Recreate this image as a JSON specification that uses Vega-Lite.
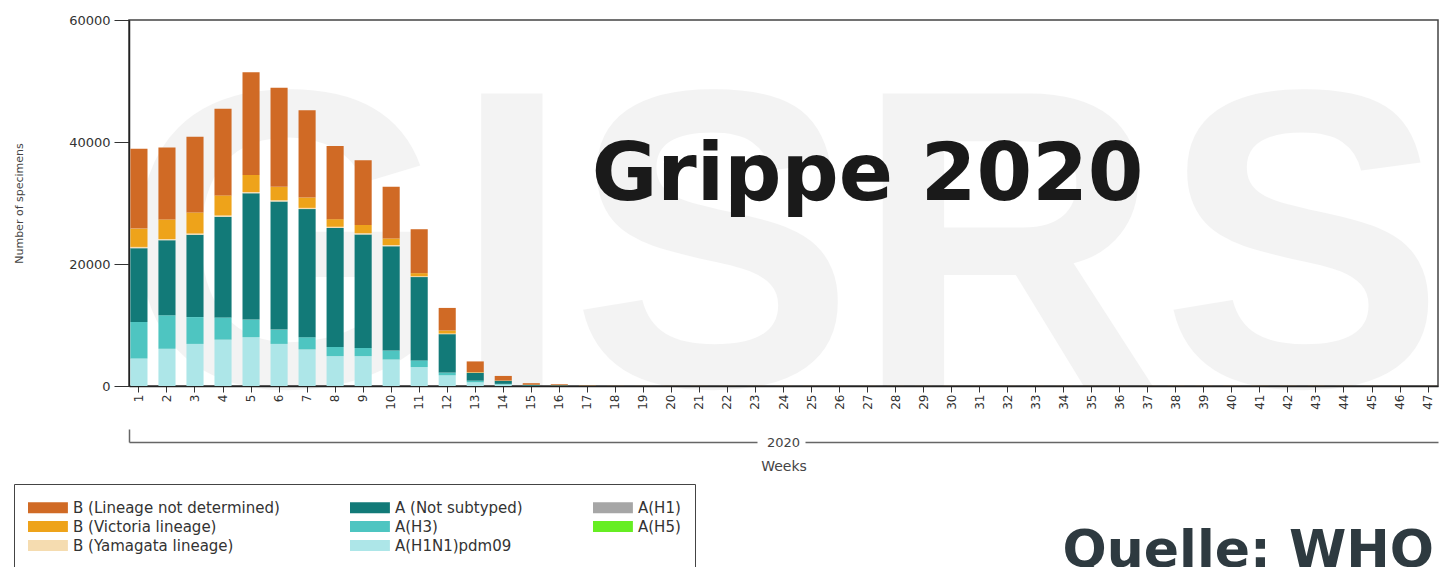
{
 "$schema": "https://vega.github.io/schema/vega-lite/v6.json",
 "width": 1309,
 "height": 366,
 "autosize": {"type": "none"},
 "padding": {"left": 129, "top": 20, "right": 11, "bottom": 181},
 "background": "white",
 "config": {
  "view": {"stroke": "#444", "strokeWidth": 1.5},
  "font": "DejaVu Sans",
  "axis": {"labelFont": "DejaVu Sans", "titleFont": "DejaVu Sans", "labelColor": "#333", "titleColor": "#444"}
 },
 "title": {"text": "Quelle: WHO", "orient": "bottom", "anchor": "end", "frame": "group", "font": "DejaVu Sans", "fontSize": 52, "fontWeight": "bold", "color": "#2e3a40", "dx": -4, "offset": -43},
 "datasets": {
  "types": [
   {"type": "A(H1N1)pdm09", "rank": 1},
   {"type": "A(H3)", "rank": 2},
   {"type": "A(H5)", "rank": 3},
   {"type": "A(H1)", "rank": 4},
   {"type": "A (Not subtyped)", "rank": 5},
   {"type": "B (Yamagata lineage)", "rank": 6},
   {"type": "B (Victoria lineage)", "rank": 7},
   {"type": "B (Lineage not determined)", "rank": 8}
  ],
  "flu": [
   {"week": 1, "type": "A(H1N1)pdm09", "count": 4500}, {"week": 1, "type": "A(H3)", "count": 6000}, {"week": 1, "type": "A (Not subtyped)", "count": 12100}, {"week": 1, "type": "B (Yamagata lineage)", "count": 200}, {"week": 1, "type": "B (Victoria lineage)", "count": 3000}, {"week": 1, "type": "B (Lineage not determined)", "count": 13100},
   {"week": 2, "type": "A(H1N1)pdm09", "count": 6100}, {"week": 2, "type": "A(H3)", "count": 5500}, {"week": 2, "type": "A (Not subtyped)", "count": 12300}, {"week": 2, "type": "B (Yamagata lineage)", "count": 200}, {"week": 2, "type": "B (Victoria lineage)", "count": 3200}, {"week": 2, "type": "B (Lineage not determined)", "count": 11800},
   {"week": 3, "type": "A(H1N1)pdm09", "count": 6900}, {"week": 3, "type": "A(H3)", "count": 4400}, {"week": 3, "type": "A (Not subtyped)", "count": 13500}, {"week": 3, "type": "B (Yamagata lineage)", "count": 200}, {"week": 3, "type": "B (Victoria lineage)", "count": 3450}, {"week": 3, "type": "B (Lineage not determined)", "count": 12400},
   {"week": 4, "type": "A(H1N1)pdm09", "count": 7600}, {"week": 4, "type": "A(H3)", "count": 3650}, {"week": 4, "type": "A (Not subtyped)", "count": 16500}, {"week": 4, "type": "B (Yamagata lineage)", "count": 200}, {"week": 4, "type": "B (Victoria lineage)", "count": 3300}, {"week": 4, "type": "B (Lineage not determined)", "count": 14200},
   {"week": 5, "type": "A(H1N1)pdm09", "count": 8000}, {"week": 5, "type": "A(H3)", "count": 2900}, {"week": 5, "type": "A (Not subtyped)", "count": 20700}, {"week": 5, "type": "B (Yamagata lineage)", "count": 200}, {"week": 5, "type": "B (Victoria lineage)", "count": 2800}, {"week": 5, "type": "B (Lineage not determined)", "count": 16850},
   {"week": 6, "type": "A(H1N1)pdm09", "count": 6900}, {"week": 6, "type": "A(H3)", "count": 2350}, {"week": 6, "type": "A (Not subtyped)", "count": 21000}, {"week": 6, "type": "B (Yamagata lineage)", "count": 200}, {"week": 6, "type": "B (Victoria lineage)", "count": 2200}, {"week": 6, "type": "B (Lineage not determined)", "count": 16250},
   {"week": 7, "type": "A(H1N1)pdm09", "count": 6000}, {"week": 7, "type": "A(H3)", "count": 2000}, {"week": 7, "type": "A (Not subtyped)", "count": 21000}, {"week": 7, "type": "B (Yamagata lineage)", "count": 200}, {"week": 7, "type": "B (Victoria lineage)", "count": 1700}, {"week": 7, "type": "B (Lineage not determined)", "count": 14300},
   {"week": 8, "type": "A(H1N1)pdm09", "count": 4900}, {"week": 8, "type": "A(H3)", "count": 1500}, {"week": 8, "type": "A (Not subtyped)", "count": 19500}, {"week": 8, "type": "B (Yamagata lineage)", "count": 200}, {"week": 8, "type": "B (Victoria lineage)", "count": 1250}, {"week": 8, "type": "B (Lineage not determined)", "count": 12000},
   {"week": 9, "type": "A(H1N1)pdm09", "count": 4900}, {"week": 9, "type": "A(H3)", "count": 1350}, {"week": 9, "type": "A (Not subtyped)", "count": 18600}, {"week": 9, "type": "B (Yamagata lineage)", "count": 200}, {"week": 9, "type": "B (Victoria lineage)", "count": 1350}, {"week": 9, "type": "B (Lineage not determined)", "count": 10600},
   {"week": 10, "type": "A(H1N1)pdm09", "count": 4350}, {"week": 10, "type": "A(H3)", "count": 1450}, {"week": 10, "type": "A (Not subtyped)", "count": 17100}, {"week": 10, "type": "B (Yamagata lineage)", "count": 200}, {"week": 10, "type": "B (Victoria lineage)", "count": 1100}, {"week": 10, "type": "B (Lineage not determined)", "count": 8450},
   {"week": 11, "type": "A(H1N1)pdm09", "count": 3100}, {"week": 11, "type": "A(H3)", "count": 1100}, {"week": 11, "type": "A (Not subtyped)", "count": 13650}, {"week": 11, "type": "B (Yamagata lineage)", "count": 150}, {"week": 11, "type": "B (Victoria lineage)", "count": 500}, {"week": 11, "type": "B (Lineage not determined)", "count": 7200},
   {"week": 12, "type": "A(H1N1)pdm09", "count": 1750}, {"week": 12, "type": "A(H3)", "count": 450}, {"week": 12, "type": "A (Not subtyped)", "count": 6300}, {"week": 12, "type": "B (Yamagata lineage)", "count": 100}, {"week": 12, "type": "B (Victoria lineage)", "count": 500}, {"week": 12, "type": "B (Lineage not determined)", "count": 3700},
   {"week": 13, "type": "A(H1N1)pdm09", "count": 600}, {"week": 13, "type": "A(H3)", "count": 270}, {"week": 13, "type": "A (Not subtyped)", "count": 1300}, {"week": 13, "type": "B (Yamagata lineage)", "count": 30}, {"week": 13, "type": "B (Victoria lineage)", "count": 80}, {"week": 13, "type": "B (Lineage not determined)", "count": 1750},
   {"week": 14, "type": "A(H1N1)pdm09", "count": 250}, {"week": 14, "type": "A(H3)", "count": 100}, {"week": 14, "type": "A (Not subtyped)", "count": 500}, {"week": 14, "type": "B (Yamagata lineage)", "count": 10}, {"week": 14, "type": "B (Victoria lineage)", "count": 40}, {"week": 14, "type": "B (Lineage not determined)", "count": 750},
   {"week": 15, "type": "A(H1N1)pdm09", "count": 50}, {"week": 15, "type": "A(H3)", "count": 20}, {"week": 15, "type": "A (Not subtyped)", "count": 120}, {"week": 15, "type": "B (Victoria lineage)", "count": 20}, {"week": 15, "type": "B (Lineage not determined)", "count": 250},
   {"week": 16, "type": "A(H1N1)pdm09", "count": 30}, {"week": 16, "type": "A(H3)", "count": 10}, {"week": 16, "type": "A (Not subtyped)", "count": 80}, {"week": 16, "type": "B (Victoria lineage)", "count": 10}, {"week": 16, "type": "B (Lineage not determined)", "count": 150},
   {"week": 17, "type": "A(H1N1)pdm09", "count": 10}, {"week": 17, "type": "A (Not subtyped)", "count": 40}, {"week": 17, "type": "B (Lineage not determined)", "count": 60},
   {"week": 18, "type": "A (Not subtyped)", "count": 10}, {"week": 18, "type": "B (Lineage not determined)", "count": 20},
   {"week": 19, "type": "A (Not subtyped)", "count": 10}, {"week": 19, "type": "B (Lineage not determined)", "count": 15},
   {"week": 20, "type": "A (Not subtyped)", "count": 10}, {"week": 20, "type": "B (Lineage not determined)", "count": 15},
   {"week": 21, "type": "A (Not subtyped)", "count": 10}, {"week": 21, "type": "B (Lineage not determined)", "count": 15},
   {"week": 22, "type": "A (Not subtyped)", "count": 10}, {"week": 22, "type": "B (Lineage not determined)", "count": 15},
   {"week": 23, "type": "A (Not subtyped)", "count": 10}, {"week": 23, "type": "B (Lineage not determined)", "count": 15},
   {"week": 24, "type": "A (Not subtyped)", "count": 10}, {"week": 24, "type": "B (Lineage not determined)", "count": 15},
   {"week": 25, "type": "A (Not subtyped)", "count": 10}, {"week": 25, "type": "B (Lineage not determined)", "count": 15},
   {"week": 26, "type": "A (Not subtyped)", "count": 10}, {"week": 26, "type": "B (Lineage not determined)", "count": 15},
   {"week": 27, "type": "A (Not subtyped)", "count": 10}, {"week": 27, "type": "B (Lineage not determined)", "count": 15},
   {"week": 28, "type": "A (Not subtyped)", "count": 10}, {"week": 28, "type": "B (Lineage not determined)", "count": 15},
   {"week": 29, "type": "A (Not subtyped)", "count": 10}, {"week": 29, "type": "B (Lineage not determined)", "count": 15},
   {"week": 30, "type": "A (Not subtyped)", "count": 10}, {"week": 30, "type": "B (Lineage not determined)", "count": 15},
   {"week": 31, "type": "A (Not subtyped)", "count": 10}, {"week": 31, "type": "B (Lineage not determined)", "count": 15},
   {"week": 32, "type": "A (Not subtyped)", "count": 10}, {"week": 32, "type": "B (Lineage not determined)", "count": 15},
   {"week": 33, "type": "A (Not subtyped)", "count": 10}, {"week": 33, "type": "B (Lineage not determined)", "count": 15},
   {"week": 34, "type": "A (Not subtyped)", "count": 10}, {"week": 34, "type": "B (Lineage not determined)", "count": 15},
   {"week": 35, "type": "A (Not subtyped)", "count": 10}, {"week": 35, "type": "B (Lineage not determined)", "count": 15},
   {"week": 36, "type": "A (Not subtyped)", "count": 10}, {"week": 36, "type": "B (Lineage not determined)", "count": 15},
   {"week": 37, "type": "A (Not subtyped)", "count": 10}, {"week": 37, "type": "B (Lineage not determined)", "count": 15},
   {"week": 38, "type": "A (Not subtyped)", "count": 10}, {"week": 38, "type": "B (Lineage not determined)", "count": 20},
   {"week": 39, "type": "A (Not subtyped)", "count": 10}, {"week": 39, "type": "B (Lineage not determined)", "count": 20},
   {"week": 40, "type": "A (Not subtyped)", "count": 10}, {"week": 40, "type": "B (Lineage not determined)", "count": 20},
   {"week": 41, "type": "A (Not subtyped)", "count": 10}, {"week": 41, "type": "B (Lineage not determined)", "count": 20},
   {"week": 42, "type": "A (Not subtyped)", "count": 10}, {"week": 42, "type": "B (Lineage not determined)", "count": 20},
   {"week": 43, "type": "A (Not subtyped)", "count": 10}, {"week": 43, "type": "B (Lineage not determined)", "count": 20},
   {"week": 44, "type": "A (Not subtyped)", "count": 10}, {"week": 44, "type": "B (Lineage not determined)", "count": 15},
   {"week": 45, "type": "A (Not subtyped)", "count": 10}, {"week": 45, "type": "B (Lineage not determined)", "count": 15},
   {"week": 46, "type": "A (Not subtyped)", "count": 10}, {"week": 46, "type": "B (Lineage not determined)", "count": 15},
   {"week": 47, "type": "A (Not subtyped)", "count": 10}, {"week": 47, "type": "B (Lineage not determined)", "count": 15}
  ]
 },
 "layer": [
  {
   "layer": [
    {
     "data": {"values": [{"label": "GISRS"}]},
     "mark": {"type": "text", "font": "Liberation Sans", "fontWeight": "bold", "fontSize": 425, "color": "#000000", "opacity": 0.045, "baseline": "alphabetic", "align": "center"},
     "encoding": {
      "x": {"datum": 24, "type": "ordinal"},
      "y": {"datum": 0, "type": "quantitative"},
      "text": {"field": "label"}
     }
    },
    {
     "data": {"name": "flu"},
     "transform": [{"lookup": "type", "from": {"data": {"name": "types"}, "key": "type", "fields": ["rank"]}}],
     "mark": {"type": "bar"},
     "encoding": {
      "x": {"field": "week", "type": "ordinal", "scale": {"paddingInner": 0.39, "paddingOuter": 0.05},
            "axis": {"title": null, "labelAngle": -90, "labelFontSize": 12, "tickSize": 6, "labelPadding": 2, "domainColor": "#222", "domainWidth": 1.5, "tickColor": "#333", "grid": false}},
      "y": {"field": "count", "type": "quantitative", "stack": "zero", "scale": {"domain": [0, 60000], "nice": false},
            "axis": {"title": "Number of specimens", "values": [0, 20000, 40000, 60000], "format": "d", "tickSize": 15, "labelPadding": 4, "labelFontSize": 13, "titleFontSize": 11, "titleFontWeight": "normal", "titlePadding": 44, "gridColor": "#444", "gridWidth": 1.2, "domainColor": "#222", "domainWidth": 1.5, "tickColor": "#333"}},
      "color": {"field": "type", "type": "nominal",
                "scale": {"domain": ["B (Lineage not determined)", "B (Victoria lineage)", "B (Yamagata lineage)", "A (Not subtyped)", "A(H3)", "A(H1N1)pdm09", "A(H1)", "A(H5)"],
                          "range": ["#d06a25", "#eea31a", "#f5dcb0", "#127a78", "#4ec5c1", "#ade6e8", "#a6a6a6", "#66ee22"]},
                "legend": {"title": null, "orient": "none", "legendX": -115, "legendY": 464, "columns": 3, "columnPadding": 70, "rowPadding": 1, "padding": 14,
                           "strokeColor": "#444", "fillColor": "white",
                           "symbolType": "M-1,-0.58H3.2V0.58H-1Z", "symbolSize": 361, "symbolStrokeWidth": 0, "symbolOpacity": 1,
                           "labelFont": "DejaVu Sans", "labelFontSize": 15, "labelColor": "#333", "labelOffset": 26, "labelLimit": 400}},
      "order": {"field": "rank", "type": "quantitative"}
     }
    },
    {
     "data": {"values": [{"label": "Grippe 2020"}]},
     "mark": {"type": "text", "font": "DejaVu Sans", "fontWeight": "bold", "fontSize": 80, "color": "#1a1a1a", "baseline": "alphabetic", "align": "center"},
     "encoding": {
      "x": {"datum": 27, "type": "ordinal"},
      "y": {"datum": 30500, "type": "quantitative"},
      "text": {"field": "label"}
     }
    }
   ]
  },
  {
   "data": {"values": [{"year": "2020"}]},
   "mark": {"type": "text", "text": ""},
   "encoding": {
    "x": {"field": "year", "type": "nominal", "scale": {"type": "band", "paddingInner": 0, "paddingOuter": 0},
          "axis": {"orient": "bottom", "offset": 56, "title": "Weeks", "titleFontSize": 14, "titleFontWeight": "normal", "titleColor": "#444", "titlePadding": 10,
                   "labelFontSize": 13, "labelColor": "#444", "labelAngle": 0, "labelBaseline": "middle", "labelPadding": 13,
                   "bandPosition": 0, "tickSize": -13, "tickColor": "#666", "tickWidth": 1.5, "domainColor": "#666", "domainWidth": 1.5, "domainDash": [628, 48, 700], "grid": false}}
   }
  }
 ],
 "resolve": {"scale": {"x": "independent"}}
}
